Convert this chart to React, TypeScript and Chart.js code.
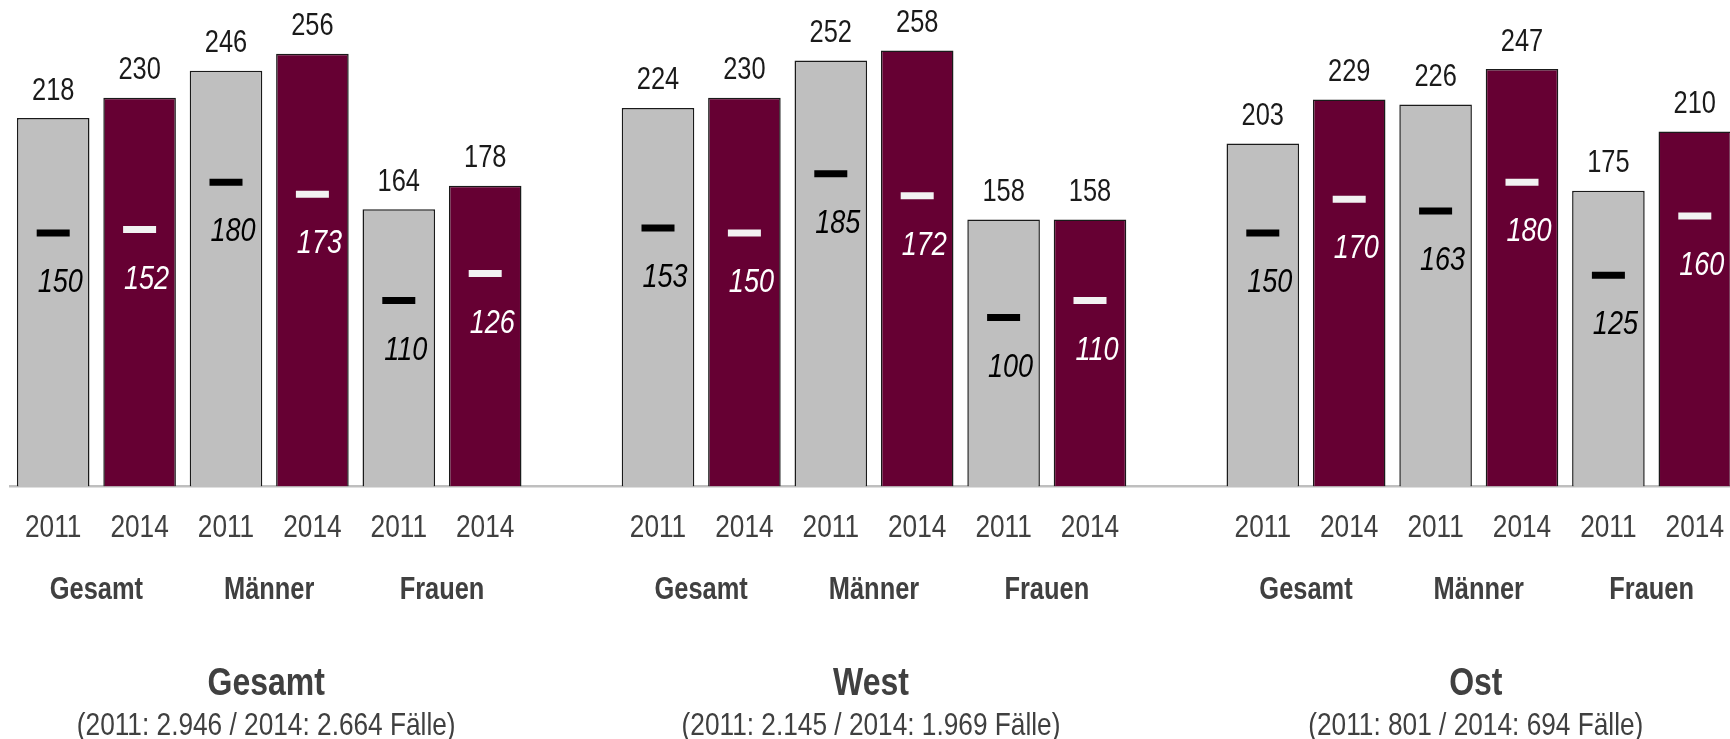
import React, { useEffect, useRef } from 'react';
import { Chart, registerables } from 'chart.js';

Chart.register(...registerables);

// ---------- data ----------
const regions = ['Gesamt', 'West', 'Ost'];
const regionCases = [
  '(2011: 2.946 / 2014: 2.664 Fälle)',
  '(2011: 2.145 / 2014: 1.969 Fälle)',
  '(2011: 801 / 2014: 694 Fälle)',
];
const groups = ['Gesamt', 'Männer', 'Frauen'];
const years = ['2011', '2014'];

// bars (mean) per region: Gesamt 2011, Gesamt 2014, Männer 2011, Männer 2014, Frauen 2011, Frauen 2014
const gesamtMean = [218, 230, 246, 256, 164, 178];
const westMean = [224, 230, 252, 258, 158, 158];
const ostMean = [203, 229, 226, 247, 175, 210];

// markers (median)
const gesamtMedian = [150, 152, 180, 173, 110, 126];
const westMedian = [153, 150, 185, 172, 100, 110];
const ostMedian = [150, 170, 163, 180, 125, 160];

const meansByRegion = [gesamtMean, westMean, ostMean];
const mediansByRegion = [gesamtMedian, westMedian, ostMedian];

// ---------- build flat arrays (one empty slot between regions) ----------
const labels: string[] = [];
const meanData: (number | null)[] = [];
const medianData: (number | null)[] = [];
const yearIdx: (number | null)[] = [];
regions.forEach((_, r) => {
  if (r > 0) {
    labels.push('');
    meanData.push(null);
    medianData.push(null);
    yearIdx.push(null);
  }
  groups.forEach((__, g) => {
    years.forEach((y, k) => {
      labels.push(y);
      meanData.push(meansByRegion[r][g * 2 + k]);
      medianData.push(mediansByRegion[r][g * 2 + k]);
      yearIdx.push(k);
    });
  });
});

const GRAY = '#bfbfbf';
const MAROON = '#660033';
const FONT = "'Liberation Sans', Arial, sans-serif";
const SX = 0.82; // horizontal compression to imitate a narrow typeface

const barColors = yearIdx.map((k) => (k === 1 ? MAROON : GRAY));
const markerColors = yearIdx.map((k) => (k === 1 ? '#f2f2f2' : '#000000'));

function narrowText(ctx: CanvasRenderingContext2D, text: string, x: number, y: number, font: string, color: string) {
  ctx.save();
  ctx.font = font;
  ctx.fillStyle = color;
  ctx.textAlign = 'center';
  ctx.textBaseline = 'alphabetic';
  ctx.translate(x, y);
  ctx.scale(SX, 1);
  ctx.fillText(text, 0, 0);
  ctx.restore();
}

const labelPlugin = {
  id: 'customLabels',
  afterDraw(chart: any) {
    const ctx = chart.ctx;
    const barMeta = chart.getDatasetMeta(0);
    const medMeta = chart.getDatasetMeta(1);

    // values above bars
    barMeta.data.forEach((el: any, i: number) => {
      const v = meanData[i];
      if (v == null) return;
      narrowText(ctx, String(v), el.x, el.y - 18.5, `31px ${FONT}`, '#1a1a1a');
    });

    // median labels
    medMeta.data.forEach((pt: any, i: number) => {
      const v = medianData[i];
      if (v == null) return;
      narrowText(ctx, String(v), pt.x + 7, pt.y + 59, `italic 33px ${FONT}`, yearIdx[i] === 1 ? '#ffffff' : '#000000');
    });

    // year labels, group labels and region titles
    const xs = chart.scales.x;
    const bottom = chart.chartArea.bottom;
    labels.forEach((lab, i) => {
      if (!lab) return;
      narrowText(ctx, lab, xs.getPixelForValue(i), bottom + 50.5, `32px ${FONT}`, '#404040');
    });
    regions.forEach((name, r) => {
      const base = r * 7;
      groups.forEach((gname, g) => {
        const x = (xs.getPixelForValue(base + g * 2) + xs.getPixelForValue(base + g * 2 + 1)) / 2;
        narrowText(ctx, gname, x, bottom + 112.5, `bold 31px ${FONT}`, '#404040');
      });
      const cx = (xs.getPixelForValue(base) + xs.getPixelForValue(base + 5)) / 2 - 3;
      narrowText(ctx, name, cx, bottom + 208.5, `bold 39px ${FONT}`, '#404040');
      narrowText(ctx, regionCases[r], cx, bottom + 248.5, `32px ${FONT}`, '#404040');
    });
  },
};

export default function App() {
  const ref = useRef<HTMLCanvasElement | null>(null);

  useEffect(() => {
    if (!ref.current) return;
    const chart = new Chart(ref.current, {
      type: 'bar',
      data: {
        labels,
        datasets: [
          {
            type: 'bar',
            data: meanData,
            backgroundColor: barColors,
            borderColor: '#1a1a1a',
            borderWidth: 1.5,
            barPercentage: 0.84,
            categoryPercentage: 1.0,
            order: 2,
          } as any,
          {
            type: 'line',
            data: medianData,
            showLine: false,
            pointStyle: 'line',
            pointRadius: 16.5,
            pointBorderWidth: 7,
            pointBorderColor: markerColors,
            pointBackgroundColor: markerColors,
            order: 1,
          } as any,
        ],
      },
      options: {
        responsive: false,
        animation: false,
        events: [],
        layout: { autoPadding: false, padding: { left: 10, right: 14, top: 13.3, bottom: 0 } },
        plugins: {
          legend: { display: false },
          tooltip: { enabled: false },
          title: { display: false },
        },
        scales: {
          x: {
            type: 'category',
            grid: { display: false, drawTicks: false },
            border: { display: true, color: '#bfbfbf', width: 2.5 },
            ticks: { display: false },
            afterFit: (scale: any) => {
              scale.height = 252.5;
            },
          },
          y: {
            display: false,
            min: 0,
            max: 280,
          },
        },
      },
      plugins: [labelPlugin],
    });
    return () => chart.destroy();
  }, []);

  return (
    <div
      style={{
        position: 'fixed',
        left: 0,
        top: 0,
        width: 1730,
        height: 739,
        overflow: 'hidden',
        background: '#ffffff',
      }}
    >
      <canvas ref={ref} width={1752} height={739} style={{ width: 1752, height: 739, display: 'block' }} />
    </div>
  );
}
